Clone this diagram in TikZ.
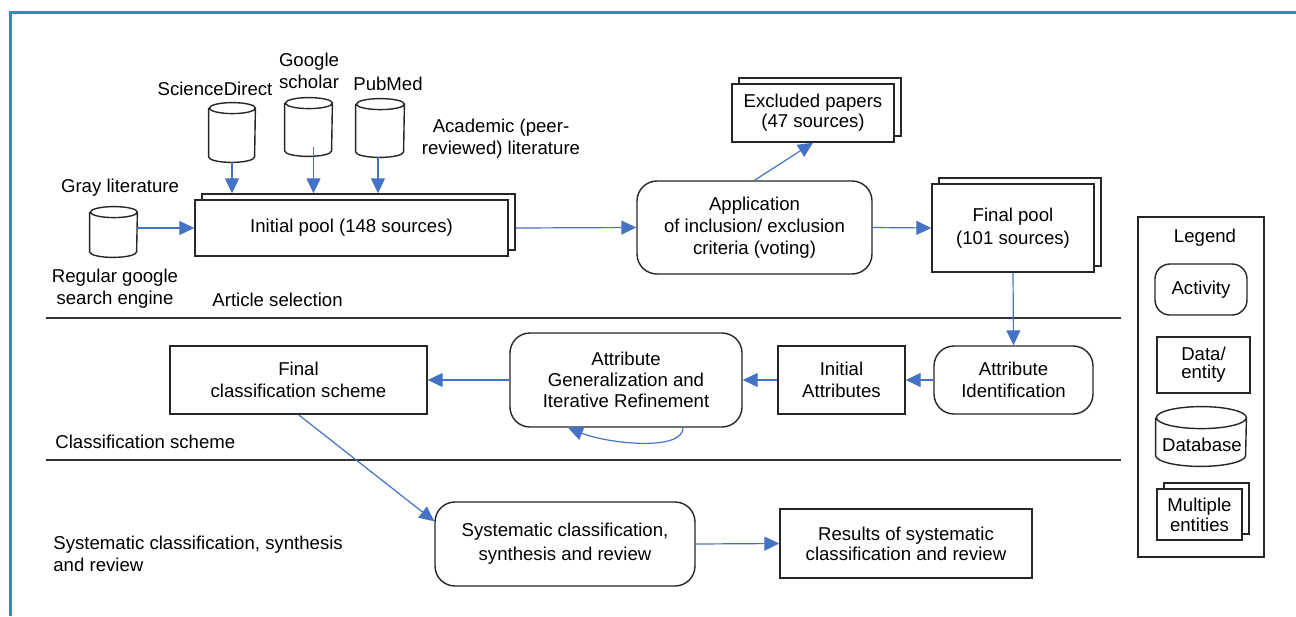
\documentclass[tikz,border=0pt]{standalone}
\usepackage{fontspec}
\setmainfont{Liberation Sans}
\usetikzlibrary{arrows.meta, shadows}

\definecolor{arrowblue}{RGB}{68,114,196}
\definecolor{framecyan}{RGB}{27,150,190}

% cylinder outline round a named node: node, x radius, y radius
\newcommand{\drawdb}[3]{%
  \draw[black!85, line width=0.7pt] ([yshift=-#3]#1.north west) -- ([yshift=#3]#1.south west)
    arc[start angle=180, end angle=360, x radius=#2, y radius=#3]
    -- ([yshift=-#3]#1.north east)
    arc[start angle=0, end angle=180, x radius=#2, y radius=#3]
    arc[start angle=180, end angle=360, x radius=#2, y radius=#3];}

\begin{document}
\begin{tikzpicture}[x=0.5pt, y=-0.5pt,
    every node/.style={font=\fontsize{9.3}{11}\selectfont, align=center, inner sep=0pt},
    flow/.style={draw=arrowblue, line width=0.6pt, -{Triangle[length=7.5pt,width=7pt]}},
    entity/.style={draw=black!85, line width=0.7pt, fill=white, rectangle},
    multi/.style={entity, copy shadow={shadow xshift=3.5pt, shadow yshift=3pt, draw=black!85, line width=0.7pt, fill=white}},
    activity/.style={draw=black!85, line width=0.7pt, fill=white, rectangle, rounded corners=10pt},
    dbnode/.style={rectangle},
    divider/.style={black!80, line width=0.8pt}]

    \useasboundingbox (0,0) rectangle (1296,616);
    \draw[framecyan, line width=1.5pt] (1296,12) -- (10,12) -- (10,616);

    % section dividers
    \draw[divider] (46,318) -- (1121,318);
    \draw[divider] (46,460) -- (1121,460);
    \node[anchor=west] (secone) at (212,300) {Article selection};
    \node[anchor=west] (sectwo) at (55,442) {Classification scheme};
    \node[anchor=west, align=left] (secthree) at (53,554) {Systematic classification, synthesis\\and review};

    % sources
    \node[dbnode, minimum width=23pt, minimum height=29.5pt] (sd) at (232,132.5) {};
    \node[dbnode, minimum width=23.5pt, minimum height=29pt] (gs) at (308.5,127) {};
    \node[dbnode, minimum width=24pt, minimum height=29pt] (pm) at (380,128) {};
    \node[dbnode, minimum width=23.5pt, minimum height=25pt] (gray) at (113.5,232) {};
    \drawdb{sd}{11.5pt}{2.75pt}
    \drawdb{gs}{11.75pt}{2.75pt}
    \drawdb{pm}{12pt}{2.75pt}
    \drawdb{gray}{11.75pt}{2.75pt}
    \node (sdlabel) at (215,89) {ScienceDirect};
    \node (gslabel) at (309,71) {Google\\scholar};
    \node (pmlabel) at (388,84) {PubMed};
    \node (acadlabel) at (501,139) {Academic (peer-\\reviewed) literature};
    \node (graylabel) at (120,188) {Gray literature};
    \node (reglabel) at (115,289) {Regular google\\search engine};

    % article selection
    \node[multi, minimum width=156.5pt, minimum height=28pt] (pool) at (351.5,228) {Initial pool (148 sources)};
    \node[activity, minimum width=117.5pt, minimum height=46.5pt] (app) at (754.5,227.5) {Application\\of inclusion/ exclusion\\criteria (voting)};
    \node[multi, minimum width=81pt, minimum height=29pt, font=\fontsize{9.3}{10}\selectfont] (excl) at (813,113) {Excluded papers\\(47 sources)};
    \node[multi, minimum width=81pt, minimum height=44pt, font=\fontsize{9.3}{11.5}\selectfont] (final) at (1013,228) {Final pool\\(101 sources)};

    \draw[flow] (sd.south) -- ([yshift=3pt]sd.south |- pool.north);
    \draw[flow] ([xshift=2.5pt,yshift=4.5pt]gs.south) -- ([xshift=2.5pt,yshift=3pt]gs.south |- pool.north);
    \draw[flow] ([xshift=-1pt]pm.south) -- ([xshift=-1pt,yshift=3pt]pm.south |- pool.north);
    \draw[flow] (gray.east |- pool.west) -- (pool.west);
    \draw[flow] ([xshift=3.5pt]pool.east) -- (app.west);
    \draw[flow] (app.north) -- (excl.south);
    \draw[flow] (app.east) -- (final.west);

    % classification scheme
    \node[entity, minimum width=128.5pt, minimum height=34pt] (fcs) at (298.5,380) {Final\\classification scheme};
    \node[activity, minimum width=116pt, minimum height=47pt, font=\fontsize{9.3}{10.5}\selectfont] (attrgen) at (626,380) {Attribute\\Generalization and\\Iterative Refinement};
    \node[entity, minimum width=63.5pt, minimum height=34pt] (ia) at (841.5,380) {Initial\\Attributes};
    \node[activity, minimum width=79.5pt, minimum height=34pt] (attrid) at (1013.5,380) {Attribute\\Identification};

    \draw[flow] (final.south) -- (attrid.north);
    \draw[flow] (attrid.west) -- (ia.east);
    \draw[flow] (ia.west) -- (attrgen.east);
    \draw[flow] (attrgen.west) -- (fcs.east);
    \draw[flow] ([xshift=28.5pt]attrgen.south) .. controls +(0,24) and +(40,16) .. ([xshift=-29pt]attrgen.south);

    % systematic classification
    \node[activity, minimum width=130pt, minimum height=42pt, font=\fontsize{9.3}{12}\selectfont] (sys) at (565,544) {Systematic classification,\\synthesis and review};
    \node[entity, minimum width=126pt, minimum height=34.5pt, font=\fontsize{9.3}{10}\selectfont] (res) at (906,543.5) {Results of systematic\\classification and review};

    \draw[flow] (fcs.south) -- ([yshift=-10pt]sys.north west);
    \draw[flow] (sys.east) -- (res.west);

    % legend
    \node[entity, minimum width=63pt, minimum height=170pt] (legend) at (1201,387) {};
    \node (legendtitle) at (1205,238) {Legend};
    \node[activity, rounded corners=7.5pt, minimum width=46pt, minimum height=25.5pt] (actkey) at (1201,289.5) {Activity};
    \node[entity, minimum width=46.5pt, minimum height=28pt, font=\fontsize{9.3}{9}\selectfont] (datakey) at (1203.5,365) {Data/\\entity};
    \node[dbnode, minimum width=45pt, minimum height=29.5pt] (dbkey) at (1201,436.5) {};
    \drawdb{dbkey}{22.5pt}{5.5pt}
    \node (dbtext) at (1202,445) {Database};
    \node[multi, minimum width=42.5pt, minimum height=25.5pt, font=\fontsize{9.3}{10}\selectfont] (multikey) at (1199.5,514.5) {Multiple\\entities};
\end{tikzpicture}
\end{document}
